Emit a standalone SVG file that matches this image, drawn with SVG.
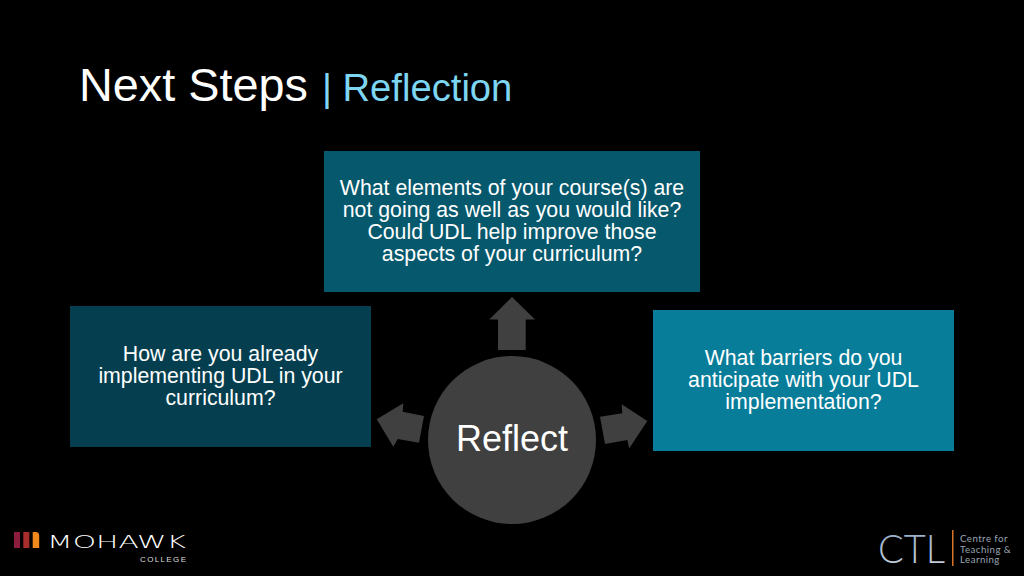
<svg xmlns="http://www.w3.org/2000/svg" width="1024" height="576" viewBox="0 0 1024 576">
<style>
text{font-family:"Liberation Sans",Arial,sans-serif}
.b{font-size:21.3px;fill:#fff;text-anchor:middle}
.a{fill:#404040}
.c{font-family:"Lato","Inter",sans-serif;fill:#98a4b4;font-size:9.7px;letter-spacing:.45px}
</style>
<defs>
<linearGradient id="ctl" x1="0" y1="0" x2="0" y2="1"><stop offset="0" stop-color="#8fa9c6"/><stop offset="1" stop-color="#c9d2dc"/></linearGradient>
</defs>
<rect width="1024" height="576" fill="#000"/>
<g id="title">
<text x="79" y="101" font-size="46.800" fill="#fff">Next Steps</text>
<text x="322" y="101" font-size="38.200" fill="#7dd6f2">| Reflection</text>
</g>
<g id="connectors">
<polygon class="a" points="512,297 535,319.5 525.7,319.5 525.7,350 498,350 498,319.5 489.3,319.5"/>
<polygon class="a" points="376.7,419.3 403.3,403.3 402.7,411.7 424,416 419,442.7 397.7,439 393.3,446.7"/>
<polygon class="a" points="647.3,421 621.7,404.3 622.3,413.3 600,416.7 605,444 627.3,440 629.3,448.3"/>
</g>
<g id="node-top">
<rect x="324" y="151" width="376" height="141" fill="#06586c"/>
<text class="b" x="512" y="195">What elements of your course(s) are</text>
<text class="b" x="512" y="217">not going as well as you would like?</text>
<text class="b" x="512" y="239">Could UDL help improve those</text>
<text class="b" x="512" y="261">aspects of your curriculum?</text>
</g>
<g id="node-left">
<rect x="70" y="306" width="301" height="141" fill="#053f4f"/>
<text class="b" x="220.500" y="361">How are you already</text>
<text class="b" x="220.500" y="383">implementing UDL in your</text>
<text class="b" x="220.500" y="405">curriculum?</text>
</g>
<g id="node-right">
<rect x="653" y="310" width="301" height="141" fill="#077d99"/>
<text class="b" x="803.500" y="365">What barriers do you</text>
<text class="b" x="803.500" y="387">anticipate with your UDL</text>
<text class="b" x="803.500" y="409">implementation?</text>
</g>
<g id="node-center">
<circle cx="512" cy="440" r="84" fill="#404040"/>
<text x="512" y="451" font-size="36" fill="#fff" text-anchor="middle">Reflect</text>
</g>
<g id="logo-mohawk">
<rect x="14" y="532" width="6" height="16" fill="#8a1c3c"/>
<rect x="23.300" y="532" width="6" height="16" fill="#a82e2e"/>
<path d="M32.700 532h3a3.500 3.500 0 0 1 3.500 3.500v12.500h-6.500z" fill="#f08a1d"/>
<text x="47" y="548" font-size="18" font-weight="200" fill="#fff" textLength="139" lengthAdjust="spacingAndGlyphs" style="font-family:'DejaVu Sans',sans-serif">MOHAWK</text>
<text x="140" y="562" font-size="8" fill="#ddd" textLength="46">COLLEGE</text>
</g>
<g id="logo-ctl">
<text x="878" y="563" font-size="39" font-weight="300" fill="url(#ctl)" textLength="67" lengthAdjust="spacingAndGlyphs" style="font-family:Lato,Inter,sans-serif">CTL</text>
<rect x="952" y="530" width="1.500" height="36" fill="#d8742a"/>
<text class="c" x="960" y="542">Centre for</text>
<text class="c" x="960" y="552.500">Teaching &amp;</text>
<text class="c" x="960" y="563">Learning</text>
</g>
</svg>
